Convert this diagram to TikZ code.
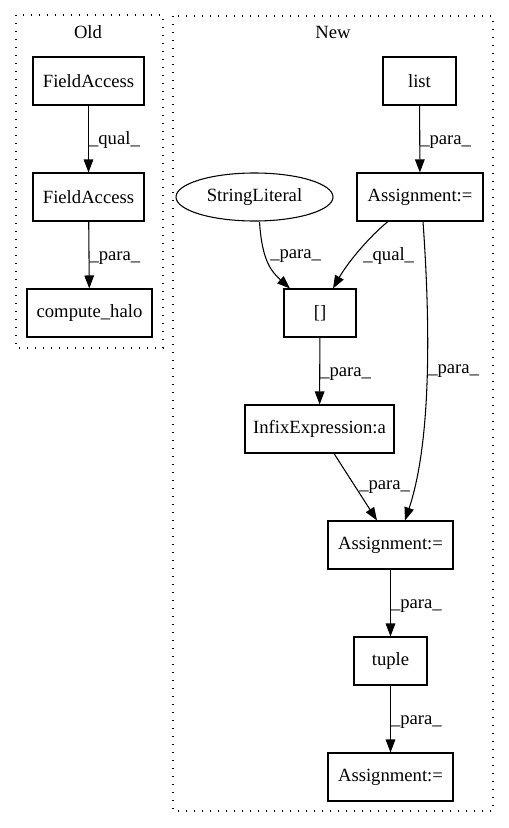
\documentclass[tikz,border=0pt]{standalone}
\usepackage{fontspec}
\setmainfont{Liberation Serif}
\usetikzlibrary{arrows.meta,calc,shapes.geometric}
\begin{document}
\begin{tikzpicture}[x=0.75pt,y=-0.75pt,
  every node/.style={font=\fontsize{14pt}{16pt}\selectfont},
  box/.style={draw,line width=0.8pt,rectangle,minimum height=36pt,inner sep=0pt},
  ell/.style={draw,line width=0.8pt,ellipse,minimum height=36pt,inner sep=0pt},
  cluster/.style={draw,line width=0.8pt,dash pattern=on 1pt off 5pt},
  edge/.style={draw,line width=0.8pt,-{Triangle[length=9.75pt,width=7.2pt]}},
  lbl/.style={right,inner sep=0pt}]
\useasboundingbox (0,0) rectangle (509,828);
% clusters
\draw[cluster] (16,15) rectangle (163,348);
\node (oldlbl) at (88,32) {Old};
\draw[cluster] (173,16) rectangle (493,811);
\node (newlbl) at (333,32) {New};
% Old nodes
\node[box,minimum width=83.25pt] (fa1) at (88.5,81) {FieldAccess};
\node[box,minimum width=83.25pt] (fa2) at (88.5,197) {FieldAccess};
\node[box,minimum width=93.75pt] (ch) at (89.5,313) {compute\_halo};
% New nodes
\node[box,minimum width=54.75pt] (list) at (419.5,81) {list};
\node[box,minimum width=94.5pt] (as1) at (420,197) {Assignment:=};
\node[ell,minimum width=117.75pt] (sl) at (254.5,197) {StringLiteral};
\node[box,minimum width=54pt] (br) at (320,313) {[]};
\node[box,minimum width=111.75pt] (infix) at (319.5,429) {InfixExpression:a};
\node[box,minimum width=93.75pt] (as2) at (390.5,545) {Assignment:=};
\node[box,minimum width=54.75pt] (tuple) at (390.5,661) {tuple};
\node[box,minimum width=93.75pt] (as3) at (390.5,777) {Assignment:=};
% Old edges
\draw[edge] (fa1) -- node[lbl,yshift=-1pt] {\_qual\_} (fa2);
\draw[edge] (fa2) -- node[lbl,yshift=-2pt] {\_para\_} (ch);
% New edges
\draw[edge] (list) -- node[lbl,yshift=-2pt] {\_para\_} (as1);
\draw[edge] ($(sl.south)+(5,0)$) .. controls (262,262) and (272,272) .. ($(br.north)+(-30,0)$);
\node[lbl] (l1) at (270,256) {\_para\_};
\draw[edge] ($(as1.south)+(-32,0)$) .. controls (370,236) and (348,262) .. ($(br.north)+(13,0)$);
\node[lbl] (l2) at (363,256) {\_qual\_};
\draw[edge] ($(as1.south)+(3,0)$) .. controls (430,320) and (432,440) .. ($(as2.north)+(14.5,0)$);
\node[lbl] (l3) at (428,371) {\_para\_};
\draw[edge] (br) -- node[lbl,yshift=-2pt] {\_para\_} (infix);
\draw[edge] ($(infix.south)+(14.5,0)$) -- ($(as2.north)+(-13.5,0)$);
\node[lbl] (l4) at (359,487) {\_para\_};
\draw[edge] (as2) -- node[lbl,yshift=-2pt] {\_para\_} (tuple);
\draw[edge] (tuple) -- node[lbl,yshift=-2pt] {\_para\_} (as3);
\end{tikzpicture}
\end{document}
